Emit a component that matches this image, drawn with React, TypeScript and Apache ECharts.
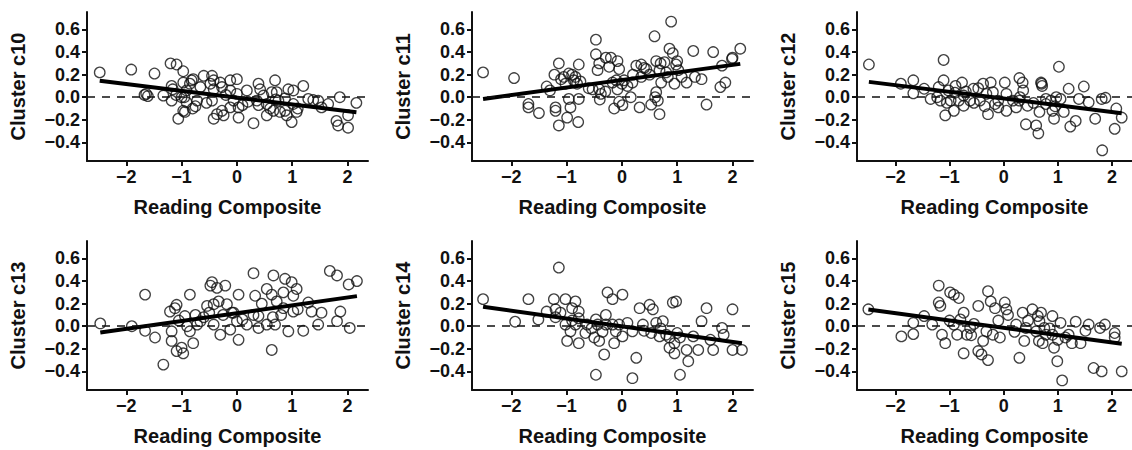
import React, { useEffect, useRef } from "react";
import * as echarts from "echarts";

const panelNames = ["Cluster c10", "Cluster c11", "Cluster c12", "Cluster c13", "Cluster c14", "Cluster c15"];
const xTitle = "Reading Composite";
const xTicks = [-2, -1, 0, 1, 2];
const yTicks = [-0.4, -0.2, 0, 0.2, 0.4, 0.6];

const c10: [number, number][] = [
  [-2.48, 0.22], [-1.91, 0.245], [-1.49, 0.21], [-1.67, 0.02], [-1.64, 0.03], [-1.61, 0.01], [-1.33, 0.015],
  [-1.2, 0.3], [-1.09, 0.29], [-0.97, 0.23], [-1.18, 0.1], [-1.16, 0.07], [-1.06, -0.19], [-0.97, -0.12],
  [-0.94, -0.13], [-0.82, 0.15], [-0.85, 0.12], [-0.79, 0.16], [-0.97, 0.13], [-0.91, 0.06], [-1.0, 0.0],
  [-1.18, -0.03], [-0.72, -0.03], [-0.75, -0.08], [-0.91, -0.045], [-0.6, 0.19], [-0.45, 0.19], [-0.42, 0.15],
  [-0.48, 0.12], [-0.42, 0.07], [-0.3, 0.13], [-0.27, 0.09], [-0.12, 0.15], [0.0, 0.16], [-0.12, 0.06],
  [0.0, 0.03], [-0.45, -0.03], [-0.42, -0.19], [-0.36, -0.15], [-0.27, -0.12], [-0.24, -0.16], [-0.12, -0.09],
  [0.03, -0.09], [0.03, -0.18], [-0.06, -0.03], [0.18, 0.06], [0.3, -0.23], [0.36, -0.03], [0.39, -0.07],
  [0.39, 0.12], [0.42, 0.07], [0.48, 0.015], [0.54, -0.06], [0.54, -0.16], [0.63, 0.045], [0.69, 0.15],
  [0.72, 0.045], [0.66, -0.12], [0.75, -0.03], [0.78, -0.13], [0.87, -0.12], [0.9, -0.16], [0.93, 0.07],
  [1.02, 0.06], [0.99, -0.22], [1.02, -0.06], [1.08, -0.13], [1.2, 0.1], [1.29, -0.015], [1.38, -0.025],
  [1.47, -0.03], [1.53, -0.09], [1.65, -0.06], [1.8, -0.21], [1.83, -0.25], [1.86, 0.0], [2.01, -0.16],
  [2.01, -0.27], [2.16, -0.05], [0.87, -0.01], [-0.66, 0.09], [-0.8, -0.1], [-0.55, -0.05], [0.6, -0.1],
  [0.7, -0.02], [0.2, -0.04], [-0.2, 0.02], [0.1, -0.07], [1.1, -0.1], [-1.1, 0.02], [-0.95, 0.0],
];

const c11: [number, number][] = [
  [-2.51, 0.22], [-1.95, 0.17], [-1.69, -0.06], [-1.69, -0.09], [-1.5, -0.14], [-1.36, 0.095], [-1.22, 0.2],
  [-1.14, 0.3], [-1.2, -0.09], [-1.2, -0.12], [-1.14, -0.25], [-1.05, 0.18], [-1.02, 0.12], [-0.96, 0.21],
  [-0.99, -0.18], [-0.93, -0.09], [-0.96, -0.015], [-0.87, 0.15], [-0.84, 0.18], [-0.81, 0.12], [-0.79, -0.22],
  [-0.78, 0.29], [-0.78, -0.015], [-0.53, 0.07], [-0.47, 0.51], [-0.47, 0.38], [-0.44, 0.24], [-0.41, 0.3],
  [-0.41, 0.07], [-0.38, 0.03], [-0.29, 0.35], [-0.23, 0.27], [-0.2, 0.35], [-0.17, 0.13], [-0.14, -0.1],
  [-0.08, 0.32], [-0.05, 0.25], [-0.08, 0.07], [0.01, -0.07], [0.04, 0.15], [0.16, 0.0], [0.19, 0.13],
  [0.26, 0.28], [0.32, -0.09], [0.35, 0.29], [0.35, 0.18], [0.44, 0.25], [0.53, -0.065], [0.59, 0.54],
  [0.62, 0.32], [0.62, 0.045], [0.65, -0.03], [0.68, -0.15], [0.68, 0.24], [0.71, 0.13], [0.77, 0.31],
  [0.83, 0.18], [0.86, 0.43], [0.89, 0.67], [0.92, 0.39], [0.95, 0.12], [0.98, 0.29], [1.02, 0.24],
  [1.08, 0.18], [1.17, 0.13], [1.29, 0.41], [1.32, 0.18], [1.44, 0.16], [1.53, -0.065], [1.65, 0.4],
  [1.78, 0.09], [1.81, 0.28], [1.87, 0.13], [1.99, 0.34], [2.0, 0.35], [2.14, 0.43], [-1.3, 0.06],
  [-0.9, 0.2], [-0.6, 0.08], [-0.3, 0.05], [-0.1, 0.15], [0.0, 0.12], [0.2, 0.2], [0.4, 0.26], [0.5, 0.2],
  [0.7, 0.3], [1.0, 0.32], [0.6, 0.0], [-0.4, -0.02], [-0.05, -0.04], [-0.75, 0.14], [-1.1, 0.16],
  [0.1, 0.1], [0.8, 0.22],
];

const c12: [number, number][] = [
  [-2.49, 0.29], [-1.9, 0.12], [-1.67, 0.15], [-1.67, 0.035], [-1.47, 0.075], [-1.35, -0.015], [-1.2, 0.09],
  [-1.11, 0.33], [-1.11, 0.15], [-1.17, -0.03], [-1.08, -0.16], [-1.02, 0.06], [-0.98, -0.03], [-0.92, -0.12],
  [-0.89, 0.1], [-0.77, 0.13], [-0.74, 0.015], [-0.74, -0.075], [-0.56, 0.075], [-0.47, 0.08], [-0.44, -0.03],
  [-0.38, 0.12], [-0.32, 0.03], [-0.29, -0.15], [-0.24, 0.13], [-0.16, -0.06], [0.02, 0.13], [0.05, 0.03],
  [0.05, -0.12], [0.23, -0.09], [0.29, 0.17], [0.35, 0.13], [0.36, 0.06], [0.41, -0.24], [0.44, -0.075],
  [0.6, -0.25], [0.64, -0.32], [0.66, -0.13], [0.69, 0.13], [0.71, 0.1], [0.78, -0.015], [0.9, -0.12],
  [0.93, -0.19], [0.97, 0.0], [1.02, 0.27], [1.05, -0.015], [1.11, -0.13], [1.2, 0.075], [1.23, -0.26],
  [1.33, -0.21], [1.39, -0.015], [1.48, 0.095], [1.57, -0.045], [1.69, -0.19], [1.82, -0.47], [1.81, -0.015],
  [1.88, -0.005], [2.05, -0.28], [2.08, -0.1], [2.18, -0.18], [0.29, -0.03], [-0.2, 0.045], [-0.1, -0.03],
  [-0.62, -0.03], [-0.83, -0.03], [0.78, -0.06], [0.87, -0.03], [0.17, -0.03], [-1.23, 0.0], [-0.9, 0.04],
  [-1.05, -0.05], [-0.55, -0.05], [-0.1, -0.09], [0.3, 0.0], [0.55, -0.05], [0.7, 0.12], [0.95, -0.08],
  [-0.35, -0.08], [-0.7, 0.05],
];

const c13: [number, number][] = [
  [-2.47, 0.025], [-1.9, 0.0], [-1.66, 0.28], [-1.66, -0.04], [-1.48, -0.1], [-1.33, -0.34], [-1.21, 0.13],
  [-1.18, -0.045], [-1.18, -0.13], [-1.12, 0.16], [-1.09, 0.19], [-1.09, -0.22], [-1.0, -0.19], [-0.97, -0.24],
  [-0.94, 0.09], [-0.85, 0.28], [-0.85, -0.045], [-0.79, -0.15], [-0.75, 0.1], [-0.72, 0.015], [-0.48, 0.36],
  [-0.45, 0.39], [-0.42, 0.195], [-0.36, 0.34], [-0.33, 0.22], [-0.3, -0.075], [-0.21, 0.36], [-0.18, 0.195],
  [-0.12, -0.03], [-0.09, 0.12], [0.0, 0.045], [0.03, -0.12], [0.03, 0.28], [0.18, 0.015], [0.3, 0.47],
  [0.33, 0.27], [0.39, 0.09], [0.39, -0.015], [0.54, 0.33], [0.63, 0.28], [0.63, -0.21], [0.66, 0.45],
  [0.69, 0.015], [0.72, 0.22], [0.84, 0.3], [0.87, 0.42], [0.93, -0.045], [0.99, 0.39], [1.02, 0.13],
  [1.08, 0.33], [1.2, -0.04], [1.29, 0.21], [1.35, 0.13], [1.47, 0.015], [1.53, 0.12], [1.68, 0.49],
  [1.81, 0.45], [1.81, 0.045], [1.87, 0.13], [2.02, 0.37], [2.04, -0.015], [2.17, 0.4], [0.3, 0.1],
  [-0.06, 0.12], [-0.54, 0.18], [-0.66, 0.045], [1.02, 0.27], [0.84, 0.16], [0.54, 0.015], [-0.42, 0.015],
  [-0.6, 0.08], [-0.25, 0.1], [0.1, 0.06], [0.45, 0.2], [0.8, 0.1], [-1.05, 0.05], [-0.9, 0.0], [0.65, 0.08],
  [1.1, 0.15], [-0.5, 0.12],
];

const c14: [number, number][] = [
  [-2.51, 0.24], [-1.93, 0.04], [-1.69, 0.24], [-1.51, 0.06], [-1.36, 0.13], [-1.23, 0.24], [-1.14, 0.52],
  [-1.2, 0.15], [-1.11, 0.12], [-1.02, 0.24], [-0.99, -0.13], [-0.93, -0.045], [-0.9, 0.16], [-0.84, 0.22],
  [-0.78, 0.13], [-0.78, -0.15], [-0.66, -0.06], [-0.5, -0.1], [-0.47, -0.43], [-0.41, -0.13], [-0.32, -0.25],
  [-0.29, 0.1], [-0.26, 0.3], [-0.17, 0.24], [-0.14, -0.15], [-0.05, 0.015], [0.01, 0.28], [0.01, -0.09],
  [0.19, -0.46], [0.26, -0.28], [0.32, 0.16], [0.38, 0.015], [0.5, 0.19], [0.56, 0.15], [0.62, 0.03],
  [0.68, -0.09], [0.74, 0.045], [0.86, -0.19], [0.92, 0.21], [0.98, 0.22], [0.95, -0.24], [1.05, -0.43],
  [1.17, -0.21], [1.2, -0.31], [1.38, -0.21], [1.44, 0.045], [1.53, 0.16], [1.65, -0.21], [1.81, -0.015],
  [1.84, -0.075], [2.0, 0.15], [2.0, -0.21], [2.17, -0.21], [0.8, -0.075], [1.05, -0.1], [1.29, -0.09],
  [0.53, -0.06], [0.19, -0.045], [-0.17, 0.015], [-0.29, 0.015], [-0.44, 0.015], [-0.63, 0.015], [-1.02, 0.015],
  [-0.84, 0.015], [-0.47, 0.06], [-0.11, -0.045], [0.86, -0.1], [-0.78, 0.07], [-1.2, 0.08], [-0.9, 0.05],
  [-0.55, -0.02], [0.1, 0.03], [0.4, -0.04], [0.7, -0.02], [0.95, -0.15], [1.0, -0.06], [1.6, -0.12],
  [-0.35, -0.05],
];

const c15: [number, number][] = [
  [-2.5, 0.15], [-1.89, -0.09], [-1.67, 0.03], [-1.67, -0.07], [-1.47, 0.09], [-1.32, 0.015], [-1.2, 0.36],
  [-1.2, 0.21], [-1.17, 0.18], [-1.14, -0.075], [-1.08, -0.15], [-0.99, 0.3], [-0.92, 0.28], [-0.83, 0.25],
  [-0.74, 0.12], [-0.74, -0.24], [-0.86, -0.075], [-0.62, -0.015], [-0.47, 0.18], [-0.47, -0.22], [-0.41, -0.25],
  [-0.38, -0.13], [-0.29, 0.31], [-0.29, -0.3], [-0.24, 0.22], [-0.16, 0.16], [-0.07, -0.1], [0.02, 0.21],
  [0.05, 0.15], [0.08, 0.1], [0.29, -0.28], [0.35, 0.12], [0.38, -0.13], [0.53, 0.15], [0.63, 0.09],
  [0.66, 0.045], [0.69, 0.12], [0.72, -0.15], [0.9, 0.09], [0.93, -0.19], [0.99, -0.31], [1.05, 0.03],
  [1.08, -0.48], [1.14, -0.1], [1.26, -0.15], [1.33, 0.04], [1.42, -0.15], [1.51, -0.04], [1.57, 0.015],
  [1.66, -0.37], [1.81, -0.4], [1.78, -0.015], [1.87, 0.015], [2.05, -0.06], [2.18, -0.4], [2.05, -0.1],
  [0.78, -0.075], [0.75, -0.015], [0.6, -0.045], [0.41, -0.015], [-0.32, -0.045], [-0.2, -0.075], [-0.68, -0.075],
  [-0.92, 0.015], [0.23, 0.015], [0.9, -0.075], [1.2, -0.075], [-1.0, 0.05], [-0.8, 0.06], [-0.55, 0.02],
  [-0.1, 0.05], [0.2, -0.05], [0.45, 0.05], [0.85, -0.02], [1.0, -0.12], [0.65, -0.13], [-0.6, -0.08],
];

const panels = [c10, c11, c12, c13, c14, c15];

const FONT = "'Liberation Sans', Arial, Helvetica, sans-serif";

function fitLine(pts: [number, number][]): [number, number][] {
  const n = pts.length;
  let sx = 0, sy = 0;
  pts.forEach(([x, y]) => { sx += x; sy += y; });
  const mx = sx / n, my = sy / n;
  let sxy = 0, sxx = 0;
  pts.forEach(([x, y]) => { sxy += (x - mx) * (y - my); sxx += (x - mx) * (x - mx); });
  const b = sxy / sxx;
  const a = my - b * mx;
  const xs = pts.map((p) => p[0]);
  const x0 = Math.min(...xs), x1 = Math.max(...xs);
  return [[x0, a + b * x0], [x1, a + b * x1]];
}

const fmt = (v: number, d: number) => (v < -1e-9 ? "\u2212" : "") + Math.abs(v).toFixed(d);

export default function App() {
  const ref = useRef<HTMLDivElement>(null);
  useEffect(() => {
    const chart = echarts.init(ref.current!, null, { renderer: "svg" });
    const grid: any[] = [], xAxis: any[] = [], yAxis: any[] = [], series: any[] = [];
    const labelStyle = { color: "#111", fontSize: 18, fontWeight: "bold", fontFamily: FONT };
    const nameStyle = { color: "#111", fontSize: 20, fontWeight: "bold", fontFamily: FONT };
    const lineStyle = { color: "#111", width: 2 };
    panels.forEach((pts, i) => {
      const col = i % 3, row = Math.floor(i / 3);
      grid.push({ left: 87 + col * 385, top: 12 + row * 229, width: 281, height: 149 });
      xAxis.push({
        gridIndex: i, type: "value", min: -2.71, max: 2.37,
        axisLine: { show: true, onZero: false, lineStyle },
        axisTick: { show: true, customValues: xTicks, length: 5, lineStyle },
        axisLabel: { customValues: xTicks, formatter: (v: number) => fmt(v, 0), margin: 7, ...labelStyle },
        splitLine: { show: false },
        name: xTitle, nameLocation: "middle", nameGap: 36, nameTextStyle: nameStyle,
      });
      yAxis.push({
        gridIndex: i, type: "value", min: -0.565, max: 0.755,
        axisLine: { show: true, onZero: false, lineStyle },
        axisTick: { show: true, customValues: yTicks, length: 5, lineStyle },
        axisLabel: { customValues: yTicks, formatter: (v: number) => fmt(v, 1), margin: 7, ...labelStyle },
        splitLine: { show: false },
        name: panelNames[i], nameLocation: "middle", nameGap: 59, nameTextStyle: nameStyle,
      });
      series.push({
        type: "scatter", xAxisIndex: i, yAxisIndex: i, data: pts, symbol: "circle", symbolSize: 10.5,
        itemStyle: { color: "rgba(0,0,0,0)", borderColor: "#111", borderWidth: 1.3 },
        markLine: {
          silent: true, symbol: "none", label: { show: false },
          lineStyle: { type: [8, 7], color: "#111", width: 1.6 },
          data: [{ yAxis: 0 }],
        },
      });
      series.push({
        type: "line", xAxisIndex: i, yAxisIndex: i, data: fitLine(pts), showSymbol: false,
        lineStyle: { color: "#000", width: 4 }, z: 3,
      });
    });
    chart.setOption({ animation: false, backgroundColor: "#fff", grid, xAxis, yAxis, series });
    return () => chart.dispose();
  }, []);
  return <div ref={ref} style={{ position: "absolute", left: 0, top: 0, width: 1132, height: 450 }} />;
}
